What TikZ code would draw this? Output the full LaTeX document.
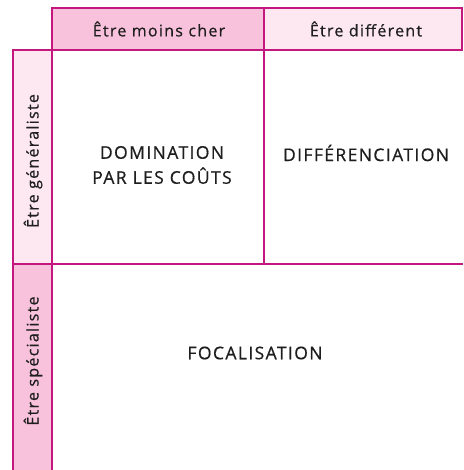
\documentclass[tikz,border=0pt]{standalone}
\usepackage{fontspec}
\setmainfont{Open Sans}
\newfontfamily\spacedfont[LetterSpace=8,FakeBold=0.6]{Open Sans}
\definecolor{linec}{HTML}{C4187F}
\definecolor{pinkmid}{HTML}{F9C2DC}
\definecolor{pinklight}{HTML}{FDE8F2}
\definecolor{textc}{HTML}{1E1E1E}
\tikzset{
  grid line/.style={draw=linec, line width=1.4pt},
  head text/.style={text=textc, font=\spacedfont\fontsize{16}{19}\selectfont, inner sep=0pt},
  cell text/.style={text=textc, font=\spacedfont\fontsize{17.5}{25}\selectfont, align=center, inner sep=0pt},
}
\begin{document}
\begin{tikzpicture}[x=1pt,y=-1pt]
\useasboundingbox (0,0) rectangle (463,470);
\fill[white] (0,0) rectangle (463,470);
% header cells
\fill[pinkmid] (52,8) rectangle (264,50);
\fill[pinklight] (264,8) rectangle (463,50);
% left cells
\fill[pinklight] (13,50) rectangle (52,264);
\fill[pinkmid] (13,264) rectangle (52,470);
% grid lines
\draw[grid line] (52,50) -- (52,8) -- (463,8);
\draw[grid line] (264,8) -- (264,264);
\draw[grid line] (13,470) -- (13,50) -- (463,50);
\draw[grid line] (52,50) -- (52,470);
\draw[grid line] (13,264) -- (463,264);
\draw[grid line] (462,8) -- (462,50);
% texts
\node[head text] (h1) at (159,29) {Être moins cher};
\node[head text] (h2) at (366,29) {Être différent};
\node[head text, rotate=90] (r1) at (33,161) {Être généraliste};
\node[head text, rotate=90] (r2) at (33,361) {Être spécialiste};
\node[cell text] (c1) at (162,165) {DOMINATION\\PAR LES COÛTS};
\node[cell text] (c2) at (366,153) {DIFFÉRENCIATION};
\node[cell text] (c3) at (255,353) {FOCALISATION};
\end{tikzpicture}
\end{document}
